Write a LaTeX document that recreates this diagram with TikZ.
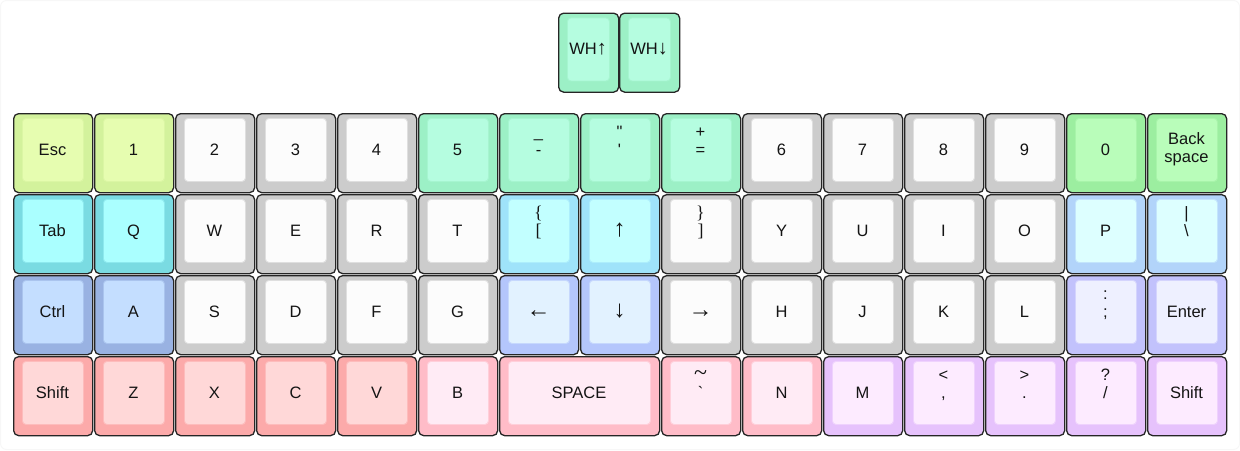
\documentclass[tikz,border=0pt]{standalone}
\usepackage{fontspec}
\setmainfont{Liberation Sans}
\newfontfamily\serf{Liberation Serif}
\newcommand\arw[1]{{\fontsize{24}{24}\selectfont\serf #1}}
\newcommand\sarw[1]{{\fontsize{20}{20}\selectfont\serf #1}}
\newcommand\brk[1]{{\fontsize{18}{18}\selectfont\serf #1}}
\newcommand\kcol[3]{\definecolor{#1o}{HTML}{#2}\definecolor{#1i}{HTML}{#3}\colorlet{#1b}{#1o!60!#1i}}
\kcol{yg}{D3F29C}{E6FDB0}
\kcol{gr}{CCCCCC}{FCFCFC}
\kcol{mi}{9CF0C6}{B5FDE0}
\kcol{gn}{9CEEA0}{B9FDBA}
\kcol{te}{7ADBE2}{AAFFFF}
\kcol{sk}{9FE3FA}{C2FFFF}
\kcol{pb}{B2D4FA}{DDFFFF}
\kcol{cb}{99B2E2}{C4DEFF}
\kcol{ab}{B4C6FC}{E2F2FF}
\kcol{lb}{C2C2FC}{EEF0FF}
\kcol{rd}{FCAAAA}{FFD8D8}
\kcol{pk}{FFBCC8}{FFEBF5}
\kcol{lv}{E6C2FC}{FDEBFF}
\tikzset{
  kout/.style={draw=black!85, line width=1.3pt, rounded corners=5pt, inner sep=0pt, anchor=north west},
  kin/.style={line width=0.9pt, rounded corners=3.5pt, inner sep=0pt, anchor=north west},
  klab/.style={inner sep=0pt, anchor=base, font=\fontsize{16.5}{18}\selectfont, text=black!92},
  klab2/.style={inner sep=0pt, anchor=center, align=center, font=\fontsize{16.5}{18}\selectfont, text=black!92},
}
% id, x, y, width, colour
\newcommand\kbox[5]{%
  \pgfmathsetmacro\kiw{#4-18}%
  \node[kout, fill=#5o, minimum width=#4pt, minimum height=79pt] (#1) at (#2,#3) {};
  \node[kin, fill=#5i, draw=#5b, minimum width=\kiw pt, minimum height=63pt] (#1i) at ({#2+9},{#3+5}) {};
}
\newcommand\kcap[6]{\kbox{#1}{#2}{#3}{#4}{#5}%
  \node[klab] (#1l) at ({#2+#4/2},{#3+42}) {#6};}
\newcommand\kcapp[7]{\kbox{#1}{#2}{#3}{#4}{#5}%
  \node[klab] (#1l) at ({#2+#4/2},{#3+42}) {#6};
  \node[klab] (#1u) at ({#2+#4/2},{#3+24}) {#7};}
\begin{document}
\begin{tikzpicture}[x=1pt,y=-1pt]
\useasboundingbox (0,0) rectangle (1240,450);
\draw[black!3, line width=1pt, rounded corners=6pt] (0.5,0.5) rectangle (1239.5,449.5);
% top keys
\kcap{whu}{558}{12.5}{60}{mi}{WH\sarw{↑}}
\kcap{whd}{619}{12.5}{60}{mi}{WH\sarw{↓}}
% row 0
\kcap{esc}{13}{113}{79}{yg}{Esc}
\kcap{k1}{94}{113}{79}{yg}{1}
\kcap{k2}{175}{113}{79}{gr}{2}
\kcap{k3}{256}{113}{79}{gr}{3}
\kcap{k4}{337}{113}{79}{gr}{4}
\kcap{k5}{418}{113}{79}{mi}{5}
\kcapp{kmin}{499}{113}{79}{mi}{-}{\_}
\kcapp{kquo}{580}{113}{79}{mi}{\textquotesingle}{\textquotedbl}
\kcapp{keq}{661}{113}{79}{mi}{=}{+}
\kcap{k6}{742}{113}{79}{gr}{6}
\kcap{k7}{823}{113}{79}{gr}{7}
\kcap{k8}{904}{113}{79}{gr}{8}
\kcap{k9}{985}{113}{79}{gr}{9}
\kcap{k0}{1066}{113}{79}{gn}{0}
\kbox{bsp}{1147}{113}{79}{gn}
\node[klab2] (bspl) at (1186.5,149) {Back\\space};
% row 1
\kcap{tab}{13}{194}{79}{te}{Tab}
\kcap{kq}{94}{194}{79}{te}{Q}
\kcap{kw}{175}{194}{79}{gr}{W}
\kcap{ke}{256}{194}{79}{gr}{E}
\kcap{kr}{337}{194}{79}{gr}{R}
\kcap{kt}{418}{194}{79}{gr}{T}
\kcapp{klb}{499}{194}{79}{sk}{\brk{[}}{\brk{\{}}
\kcap{kup}{580}{194}{79}{sk}{\arw{↑}}
\kcapp{krb}{661}{194}{79}{gr}{\brk{]}}{\brk{\}}}
\kcap{ky}{742}{194}{79}{gr}{Y}
\kcap{ku}{823}{194}{79}{gr}{U}
\kcap{ki}{904}{194}{79}{gr}{I}
\kcap{ko}{985}{194}{79}{gr}{O}
\kcap{kp}{1066}{194}{79}{pb}{P}
\kcapp{kbs}{1147}{194}{79}{pb}{\textbackslash}{|}
% row 2
\kcap{ctrl}{13}{275}{79}{cb}{Ctrl}
\kcap{ka}{94}{275}{79}{cb}{A}
\kcap{ks}{175}{275}{79}{gr}{S}
\kcap{kd}{256}{275}{79}{gr}{D}
\kcap{kf}{337}{275}{79}{gr}{F}
\kcap{kg}{418}{275}{79}{gr}{G}
\kcap{klt}{499}{275}{79}{ab}{\arw{←}}
\kcap{kdn}{580}{275}{79}{ab}{\arw{↓}}
\kcap{krt}{661}{275}{79}{gr}{\arw{→}}
\kcap{kh}{742}{275}{79}{gr}{H}
\kcap{kj}{823}{275}{79}{gr}{J}
\kcap{kk}{904}{275}{79}{gr}{K}
\kcap{kl}{985}{275}{79}{gr}{L}
\kcapp{ksc}{1066}{275}{79}{lb}{;}{:}
\kcap{ent}{1147}{275}{79}{lb}{Enter}
% row 3
\kcap{lsh}{13}{356}{79}{rd}{Shift}
\kcap{kz}{94}{356}{79}{rd}{Z}
\kcap{kx}{175}{356}{79}{rd}{X}
\kcap{kc}{256}{356}{79}{rd}{C}
\kcap{kv}{337}{356}{79}{rd}{V}
\kcap{kb}{418}{356}{79}{pk}{B}
\kcap{spc}{499}{356}{160}{pk}{SPACE}
\kcapp{kgr}{661}{356}{79}{pk}{\textasciigrave}{\arw{\textasciitilde}}
\kcap{kn}{742}{356}{79}{pk}{N}
\kcap{km}{823}{356}{79}{lv}{M}
\kcapp{kcm}{904}{356}{79}{lv}{,}{<}
\kcapp{kdt}{985}{356}{79}{lv}{.}{>}
\kcapp{ksl}{1066}{356}{79}{lv}{/}{?}
\kcap{rsh}{1147}{356}{79}{lv}{Shift}
\end{tikzpicture}
\end{document}
